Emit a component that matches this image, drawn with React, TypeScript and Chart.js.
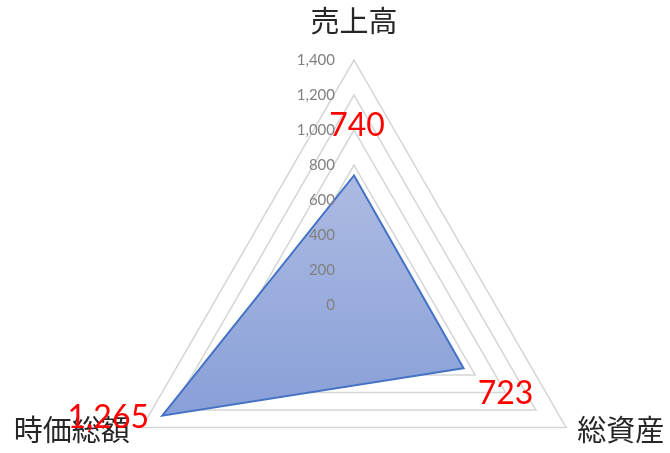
import { useEffect, useRef } from 'react';
import { Chart, registerables } from 'chart.js';

Chart.register(...registerables);

// data
const CATEGORIES = ['売上高', '総資産', '時価総額'];
const VALUES = [740, 723, 1265];
const AXIS_MIN = 0;
const AXIS_MAX = 1400;
const AXIS_STEP = 200;

// plot geometry (Excel places the triangle low in the frame)
const CENTER_X = 354;
const CENTER_Y = 305;
const RADIUS = 245;

// data label nudges, in px from each point
const LABEL_SHIFT: [number, number][] = [
  [3, -50],
  [42, 25],
  [-54, 2],
];

const TICK_FONT = '15px Lato, "Noto Sans", sans-serif';
const CAT_FONT = '29px "Noto Sans CJK JP", sans-serif';
const VALUE_FONT = '32px Lato, "Noto Sans", sans-serif';

const radarText = {
  id: 'radarText',
  afterDatasetsDraw(chart: any) {
    const { ctx } = chart;
    const scale = chart.scales.r;
    ctx.save();

    // tick labels, right aligned left of the vertical spoke
    ctx.font = TICK_FONT;
    ctx.fillStyle = '#808080';
    ctx.textAlign = 'right';
    ctx.textBaseline = 'middle';
    scale.ticks.forEach((t: any) => {
      const d = scale.getDistanceFromCenterForValue(t.value);
      ctx.fillText(Number(t.value).toLocaleString('en-US'), scale.xCenter - 19, scale.yCenter - d);
    });

    // category labels at the outer vertices
    ctx.font = CAT_FONT;
    ctx.fillStyle = '#262626';
    chart.data.labels.forEach((lab: string, i: number) => {
      const p = scale.getPointPosition(i, scale.drawingArea);
      const c = Math.cos(p.angle);
      if (Math.abs(c) < 0.01) {
        ctx.textAlign = 'center';
        ctx.fillText(lab, p.x, p.y + (Math.sin(p.angle) < 0 ? -39 : 39));
      } else if (c > 0) {
        ctx.textAlign = 'left';
        ctx.fillText(lab, p.x + 11, p.y + 2);
      } else {
        ctx.textAlign = 'right';
        ctx.fillText(lab, p.x - 12, p.y + 2);
      }
    });

    // value labels
    ctx.font = VALUE_FONT;
    ctx.fillStyle = '#FF0000';
    ctx.textAlign = 'center';
    const meta = chart.getDatasetMeta(0);
    meta.data.forEach((pt: any, i: number) => {
      const [dx, dy] = LABEL_SHIFT[i];
      ctx.fillText(VALUES[i].toLocaleString('en-US'), pt.x + dx, pt.y + dy);
    });

    ctx.restore();
  },
};

export default function App() {
  const canvasRef = useRef<HTMLCanvasElement>(null);

  useEffect(() => {
    document.body.style.margin = '0';
    if (!canvasRef.current) return;

    const chart = new Chart(canvasRef.current, {
      type: 'radar',
      data: {
        labels: CATEGORIES,
        datasets: [
          {
            label: '系列1',
            data: VALUES,
            borderColor: '#4472C4',
            borderWidth: 2,
            backgroundColor: (context: any) => {
              const { chart } = context;
              const scale = chart.scales.r;
              if (!scale || !chart.chartArea) return '#97ABDC';
              const ys = VALUES.map((v, i) => scale.getPointPositionForValue(i, v).y);
              const g = chart.ctx.createLinearGradient(0, Math.min(...ys), 0, Math.max(...ys));
              g.addColorStop(0, '#ADBBE3');
              g.addColorStop(1, '#889FD7');
              return g;
            },
            fill: true,
            pointRadius: 0,
            pointHoverRadius: 0,
            tension: 0,
          },
        ],
      },
      options: {
        responsive: true,
        maintainAspectRatio: false,
        animation: false,
        layout: { padding: 0 },
        plugins: {
          legend: { display: false },
          tooltip: { enabled: false },
        },
        scales: {
          r: {
            min: AXIS_MIN,
            max: AXIS_MAX,
            ticks: { stepSize: AXIS_STEP, display: false },
            grid: { color: '#D6D6D6', lineWidth: 1.5 },
            angleLines: { display: false },
            pointLabels: { display: false },
            afterFit: (scale: any) => {
              scale.xCenter = CENTER_X;
              scale.yCenter = CENTER_Y;
              scale.drawingArea = RADIUS;
            },
          },
        },
      },
      plugins: [radarText],
    });

    return () => chart.destroy();
  }, []);

  return (
    <div style={{ position: 'relative', width: 670, height: 453 }}>
      <canvas ref={canvasRef} />
    </div>
  );
}
